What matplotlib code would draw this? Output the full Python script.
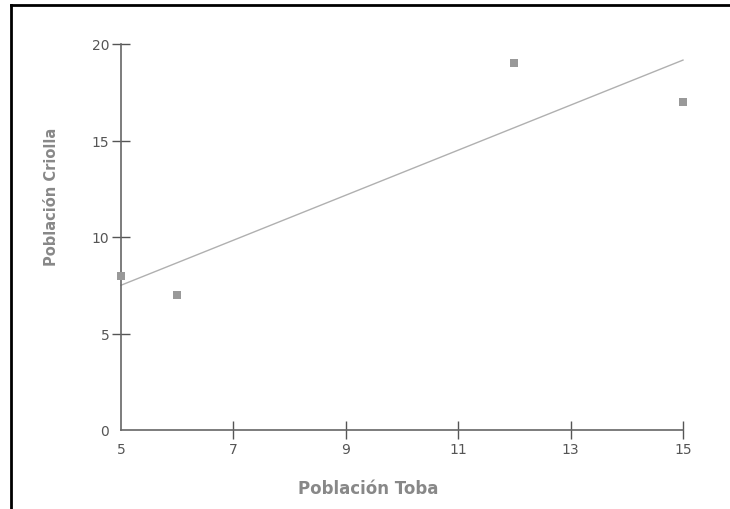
import numpy as np
import matplotlib
matplotlib.use("Agg")
import matplotlib.pyplot as plt
from matplotlib.lines import Line2D

# Data
toba = [5, 6, 12, 15]
criolla = [8, 7, 19, 17]
x_ticks = [5, 7, 9, 11, 13, 15]
y_ticks = [0, 5, 10, 15, 20]
x_label = "Población Toba"
y_label = "Población Criolla"

plt.rcParams['font.family'] = ['DejaVu Sans']

fig = plt.figure(figsize=(7.3, 5.1), dpi=100)
ax = fig.add_axes([121/730, 1-431/510, (683-121)/730, (431-45)/510])

# regression line
slope, intercept = np.polyfit(toba, criolla, 1)
xs = np.array([min(toba), max(toba)])
ax.plot(xs, slope*xs + intercept, color='#b0b0b0', lw=1.0, clip_on=False, zorder=2)
ax.plot(toba, criolla, linestyle='none', marker='s', markersize=5.5,
        color='#999999', markeredgewidth=0, clip_on=False, zorder=3)

ax.set_xlim(5, 15)
ax.set_ylim(0, 20)
ax.set_xticks(x_ticks)
ax.set_yticks(y_ticks)
ax.set_xticklabels([str(v) for v in x_ticks])
ax.set_yticklabels([str(v) for v in y_ticks])

for s in ['top', 'right']:
    ax.spines[s].set_visible(False)
for s in ['left', 'bottom']:
    ax.spines[s].set_color('#666666')
    ax.spines[s].set_linewidth(1.2)

ax.tick_params(axis='both', direction='inout', length=13, width=1.0,
               color='#555555', labelcolor='#555555', labelsize=10, pad=2)

# hide ticks at the origin
ax.xaxis.get_major_ticks()[0].tick1line.set_visible(False)
ax.yaxis.get_major_ticks()[0].tick1line.set_visible(False)

fig.text(368/730, 1-489/510, x_label, ha='center', va='center',
         fontsize=12, fontweight='bold', color='#888888')
fig.text(52/730, 1-197/510, y_label, ha='center', va='center', rotation=90,
         fontsize=10.5, fontweight='bold', color='#888888')

# frame border (top and left)
fig.add_artist(Line2D([11/730, 1.0], [1-6/510, 1-6/510], transform=fig.transFigure,
                      color='black', lw=2))
fig.add_artist(Line2D([11/730, 11/730], [0, 1-6/510], transform=fig.transFigure,
                      color='black', lw=2))

fig.savefig('out.png', dpi=100)
